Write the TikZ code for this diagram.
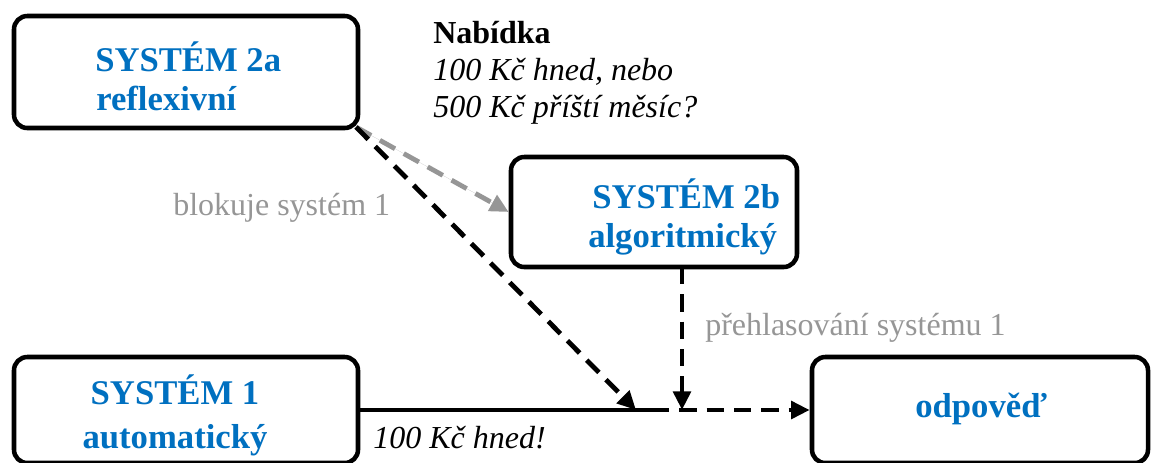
\documentclass[tikz,border=0pt]{standalone}
\usepackage{fontspec}
\setmainfont{Liberation Serif}
\usetikzlibrary{arrows.meta}
\definecolor{sysblue}{RGB}{0,112,192}
\definecolor{lblgray}{RGB}{150,150,150}
\tikzset{
  sysbox/.style={draw=black, line width=3.4pt, rounded corners=10pt, fill=white},
  systitle/.style={text=sysblue, font=\fontsize{26}{30}\selectfont\bfseries, inner sep=0pt, anchor=base west},
  graylbl/.style={text=lblgray, font=\fontsize{24}{28}\selectfont, inner sep=0pt, anchor=base west},
  itlbl/.style={text=black, font=\fontsize{24}{28}\selectfont\itshape, inner sep=0pt, anchor=base west},
  conn/.style={line width=3.6pt, -{Triangle[length=14pt,width=13pt]}},
  dashconn/.style={conn, dash pattern=on 13pt off 7.5pt},
}
\begin{document}
\begin{tikzpicture}[x=0.75pt,y=-0.75pt]
\useasboundingbox (0,0) rectangle (1155,462);
\begin{scope}
\clip (0,0) rectangle (1155,462);
% boxes
\node[sysbox, minimum width=344*0.75pt, minimum height=112*0.75pt] (s2a) at (186,72) {};
\node[sysbox, minimum width=286*0.75pt, minimum height=110*0.75pt] (s2b) at (654,212) {};
\node[sysbox, minimum width=344*0.75pt, minimum height=106*0.75pt] (s1) at (186,410) {};
\node[sysbox, minimum width=336*0.75pt, minimum height=106*0.75pt] (odp) at (980,410) {};
% box texts
\node[systitle] (t2a) at (95,71) {SYSTÉM 2a};
\node[systitle] (r2a) at (96,110) {reflexivní};
\node[systitle] (t2b) at (592,208) {SYSTÉM 2b};
\node[systitle] (r2b) at (588,247) {algoritmický};
\node[systitle, anchor=base] (t1) at (175,404) {SYSTÉM 1};
\node[systitle, anchor=base] (r1) at (175,448) {automatický};
\node[systitle, anchor=base] (todp) at (981,417) {odpověď};
% labels
\node[text=black, font=\fontsize{24}{28}\selectfont\bfseries, inner sep=0pt, anchor=base west] (nab) at (433,43) {Nabídka};
\node[itlbl] (nab1) at (433,80) {100 Kč hned, nebo};
\node[itlbl] (nab2) at (433,117) {500 Kč příští měsíc?};
\node[graylbl] (blk) at (173,215) {blokuje systém 1};
\node[graylbl] (pre) at (705,335) {přehlasování systému 1};
\node[itlbl] (hned) at (373,448) {100 Kč hned!};
% junction coordinates
\coordinate (c2a) at (356,127);
\coordinate (j1) at (636,410);
\coordinate (j2) at (682,410);
\coordinate (s2bb) at (682,267);
\coordinate (sol) at (652,410);
% connectors
\draw[line width=3.6pt] (s1.east) -- (sol);
\draw[dashconn] (sol) -- (odp.west);
\draw[dashconn, draw=lblgray, fill=lblgray] (c2a) -- (s2b.west);
\draw[dashconn] (c2a) -- (j1);
\draw[dashconn] (s2bb) -- (j2);
\end{scope}
\end{tikzpicture}
\end{document}
